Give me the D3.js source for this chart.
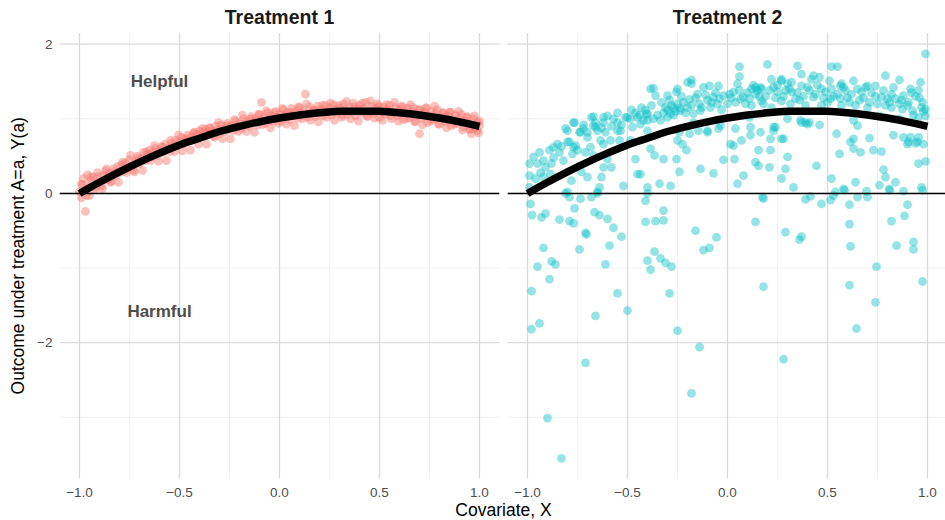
<!DOCTYPE html>
<html><head><meta charset="utf-8">
<script src="https://cdn.jsdelivr.net/npm/d3@7"></script>
<style>body{margin:0;background:#fff} svg{display:block} text{font-family:"Liberation Sans",Arial,sans-serif}</style>
</head><body><svg id="c" width="945" height="520"></svg>
<script>
const panelTitles = ["Treatment 1", "Treatment 2"];
const xMajor = [-1, -0.5, 0, 0.5, 1];
const xMinor = [-0.75, -0.25, 0.25, 0.75];
const yMajor = [-2, 0, 2];
const yMinor = [-3, -1, 1];
const xTitle = "Covariate, X";
const yTitle = "Outcome under treatment A=a, Y(a)";
const annoText = ["Helpful", "Harmful"];
const annoX = [-0.6, -0.6];
const annoY = [1.5, -1.58];
const seriesColor = ["#F8766D", "#00BFC4"];

// mean outcome curve (same in both panels)
const curveX = [-1,-0.9,-0.8,-0.7,-0.6,-0.5,-0.4,-0.3,-0.2,-0.1,0,0.1,0.2,0.3,0.4,0.5,0.6,0.7,0.8,0.9,1];
const curveY = [0,0.15,0.29,0.42,0.54,0.65,0.74,0.83,0.90,0.96,1.01,1.05,1.08,1.10,1.10,1.10,1.08,1.05,1.01,0.96,0.90];

// Treatment 1 observations
const t1Points = [
[-1.00,0.02],[-0.99,-0.06],[-0.99,0.12],[-0.98,0.20],[-0.97,-0.24],[-0.97,0.05],[-0.96,0.25],[-0.95,0.10],[-0.95,-0.03],[-0.94,0.17],
[-0.93,0.22],[-0.92,0.08],[-0.91,0.28],[-0.90,0.15],[-0.89,0.10],[-0.88,0.24],[-0.87,0.30],[-0.86,0.18],[-0.85,0.27],[-0.84,0.16],
[-0.83,0.33],[-0.82,0.24],[-0.81,0.36],[-0.80,0.28],[-0.79,0.38],[-0.78,0.30],[-0.77,0.41],[-0.76,0.33],[-0.75,0.45],[-0.74,0.36],
[-0.73,0.31],[-0.72,0.43],[-0.71,0.50],[-0.70,0.40],[-0.69,0.47],[-0.68,0.55],[-0.67,0.44],[-0.66,0.52],[-0.65,0.58],[-0.64,0.49],
[-0.63,0.55],[-0.62,0.60],[-0.61,0.51],[-0.60,0.57],[-0.59,0.63],[-0.58,0.55],[-0.57,0.66],[-0.56,0.60],[-0.55,0.56],[-0.54,0.67],
[-0.53,0.62],[-0.52,0.71],[-0.51,0.64],[-0.50,0.69],[-0.49,0.75],[-0.48,0.66],[-0.47,0.72],[-0.46,0.78],[-0.45,0.70],[-0.44,0.76],
[-0.43,0.81],[-0.42,0.73],[-0.41,0.79],[-0.40,0.84],[-0.39,0.76],[-0.38,0.82],[-0.37,0.86],[-0.36,0.80],[-0.35,0.88],[-0.34,0.83],
[-0.33,0.77],[-0.32,0.90],[-0.31,0.85],[-0.30,0.80],[-0.29,0.92],[-0.28,0.86],[-0.27,0.83],[-0.26,0.94],[-0.25,0.88],[-0.24,0.91],
[-0.23,0.84],[-0.22,0.97],[-0.21,0.90],[-0.20,0.94],[-0.19,0.87],[-0.18,1.00],[-0.17,0.93],[-0.16,0.97],[-0.15,0.90],[-0.14,1.03],
[-0.13,0.96],[-0.12,1.00],[-0.11,0.92],[-0.10,1.06],[-0.09,1.22],[-0.09,0.98],[-0.08,1.02],[-0.07,0.94],[-0.06,1.08],[-0.05,1.00],
[-0.04,1.04],[-0.03,0.96],[-0.02,1.10],[-0.01,1.02],[0.00,1.06],[0.01,0.97],[0.02,1.12],[0.03,1.04],[0.04,1.08],[0.05,0.99],
[0.06,1.14],[0.07,1.05],[0.08,1.10],[0.09,1.01],[0.10,1.15],[0.11,1.06],[0.12,1.11],[0.13,1.33],[0.14,1.02],[0.15,1.16],
[0.16,1.08],[0.17,1.12],[0.18,1.03],[0.19,1.17],[0.20,1.09],[0.21,1.13],[0.22,1.04],[0.23,1.18],[0.24,1.10],[0.25,1.14],
[0.26,1.05],[0.27,1.19],[0.28,1.11],[0.29,1.08],[0.30,1.15],[0.31,1.02],[0.32,1.20],[0.33,1.12],[0.34,1.06],[0.35,1.16],
[0.36,1.10],[0.37,1.21],[0.38,1.04],[0.39,1.13],[0.40,1.18],[0.41,1.08],[0.42,1.14],[0.43,1.22],[0.44,1.03],[0.45,1.11],
[0.46,1.17],[0.47,1.07],[0.48,1.14],[0.49,1.20],[0.50,1.02],[0.51,1.10],[0.52,1.16],[0.53,1.06],[0.54,1.13],[0.55,1.18],
[0.56,1.00],[0.57,1.09],[0.58,1.15],[0.59,1.04],[0.60,1.12],[0.61,1.17],[0.62,0.99],[0.63,1.08],[0.64,1.14],[0.65,1.02],
[0.66,1.10],[0.67,1.15],[0.68,0.97],[0.69,1.06],[0.70,0.80],[0.70,1.12],[0.71,1.01],[0.72,1.09],[0.73,1.14],[0.74,0.95],
[0.75,1.04],[0.76,1.10],[0.77,0.99],[0.78,1.07],[0.79,1.12],[0.80,0.93],[0.81,1.02],[0.82,1.08],[0.83,0.96],[0.84,1.04],
[0.85,1.09],[0.86,0.91],[0.87,0.99],[0.88,1.05],[0.89,0.94],[0.90,1.01],[0.91,1.06],[0.92,0.89],[0.93,0.97],[0.94,1.03],
[0.95,0.86],[0.96,0.80],[0.96,0.94],[0.97,1.00],[0.98,0.88],[0.99,0.84],[0.99,0.95],[1.00,0.91],[1.00,0.97],
[-0.985,0.12],[-0.965,-0.03],[-0.945,0.22],[-0.925,0.05],[-0.905,0.23],[-0.885,0.06],[-0.865,0.33],[-0.845,0.15],[-0.825,0.29],[-0.805,0.15],
[-0.785,0.42],[-0.765,0.28],[-0.745,0.51],[-0.725,0.29],[-0.705,0.47],[-0.685,0.31],[-0.665,0.56],[-0.645,0.44],[-0.625,0.64],[-0.605,0.43],
[-0.585,0.62],[-0.565,0.44],[-0.545,0.71],[-0.525,0.56],[-0.505,0.78],[-0.485,0.57],[-0.465,0.73],[-0.445,0.58],[-0.425,0.82],[-0.405,0.66],
[-0.385,0.87],[-0.365,0.66],[-0.345,0.87],[-0.325,0.75],[-0.305,0.95],[-0.285,0.73],[-0.265,0.91],[-0.245,0.73],[-0.225,0.99],[-0.205,0.83],
[-0.185,1.05],[-0.165,0.83],[-0.145,1.00],[-0.125,0.82],[-0.105,1.06],[-0.085,0.92],[-0.065,1.11],[-0.045,0.88],[-0.025,1.08],[-0.005,0.94],
[0.015,1.14],[0.035,0.93],[0.055,1.09],[0.075,0.91],[0.095,1.16],[0.115,1.00],[0.135,1.20],[0.155,0.98],[0.175,1.12],[0.195,0.96],
[0.215,1.18],[0.235,1.02],[0.255,1.21],[0.275,0.98],[0.295,1.18],[0.315,1.05],[0.335,1.23],[0.355,1.00],[0.375,1.16],[0.395,0.97],
[0.415,1.21],[0.435,1.04],[0.455,1.24],[0.475,1.01],[0.495,1.17],[0.515,0.98],[0.535,1.19],[0.555,1.04],[0.575,1.22],[0.595,0.97],
[0.615,1.16],[0.635,1.00],[0.655,1.19],[0.675,0.96],[0.695,1.12],[0.715,0.92],[0.735,1.15],[0.755,0.97],[0.775,1.17],[0.795,0.93],
[0.815,1.08],[0.835,0.88],[0.855,1.09],[0.875,0.93],[0.895,1.10],[0.915,0.85],[0.935,1.02],[0.955,0.86],[0.975,1.04],[0.995,0.81]
];

// Treatment 2 observations
const t2Points = [
[-0.985,-0.14],[-0.977,-0.29],[-0.93,-0.32],[-0.91,-0.27],[-0.84,-0.35],[-0.79,-0.37],[-0.77,-0.40],[-0.765,-0.20],[-0.735,-0.07],[-0.79,-0.05],
[-0.81,0.0],[-0.68,-0.05],[-0.65,0.0],[-0.665,-0.25],[-0.64,-0.29],[-0.60,-0.34],[-0.57,-0.46],[-0.53,-0.58],[-0.71,-0.53],[-0.705,-0.55],
[-0.74,-0.75],[-0.92,-0.73],[-0.59,-0.70],[-0.61,-0.95],[-0.88,-0.91],[-0.86,-0.95],[-0.95,-0.98],[-0.89,-1.15],[-0.98,-1.31],[-0.55,-1.34],
[-0.50,-1.57],[-0.66,-1.64],[-0.94,-1.74],[-0.98,-1.82],[-0.71,-2.27],[-0.41,-0.10],[-0.40,0.0],[-0.41,-0.38],[-0.36,-0.37],[-0.32,-0.36],
[-0.32,-0.23],[-0.365,-0.78],[-0.40,-0.90],[-0.385,-1.02],[-0.335,-0.87],[-0.31,-0.93],[-0.28,-0.98],[-0.29,-1.34],[-0.25,-1.84],[-0.14,-2.06],
[-0.16,-0.50],[-0.12,-0.76],[-0.09,-0.73],[-0.055,-0.59],[-0.18,-2.68],[-0.90,-3.01],[-0.83,-3.55],
[0.18,-0.07],[0.14,-0.38],[0.29,-0.52],[0.37,-0.58],[0.36,-0.62],[0.39,-0.08],[0.415,-0.04],[0.47,-0.14],[0.515,-0.09],[0.54,0.02],
[0.585,0.04],[0.61,-0.15],[0.65,-0.05],[0.70,-0.05],[0.695,0.03],[0.61,-0.41],[0.615,-0.71],[0.61,-1.23],[0.745,-0.98],[0.74,-1.46],
[0.645,-1.81],[0.18,-1.25],[0.28,-2.22],[0.82,-0.37],[0.885,-0.30],[0.90,-0.15],[0.845,-0.70],[0.93,-0.65],[0.93,-0.75],[0.975,-1.18],
[0.81,0.04],[0.88,0.03],[0.975,0.04],
[-0.99,0.08],[-0.99,0.24],[-0.99,0.40],[-0.97,0.49],[-0.94,0.55],[-0.92,0.44],[-0.91,0.35],[-0.935,0.28],[-0.92,0.22],[-0.885,0.26],
[-0.87,0.48],[-0.89,0.58],[-0.87,0.62],[-0.85,0.66],[-0.83,0.63],[-0.82,0.44],[-0.79,0.69],[-0.77,0.62],[-0.775,0.53],[-0.75,0.58],
[-0.80,0.84],[-0.765,0.95],[-0.735,0.82],[-0.72,0.87],[-0.68,1.02],[-0.66,0.89],[-0.62,1.02],[-0.61,0.82],[-0.635,0.71],[-0.685,0.62],
[-0.71,0.55],[-0.67,0.51],[-0.60,0.46],[-0.58,0.35],[-0.62,0.35],[-0.63,0.22],[-0.64,0.08],[-0.78,0.17],[-0.73,0.29],[-0.70,0.22],
[-0.585,0.71],[-0.55,0.95],[-0.535,0.84],[-0.50,1.02],[-0.475,0.89],[-0.45,1.02],[-0.42,0.98],[-0.405,1.06],[-0.46,0.46],[-0.45,0.26],
[-0.52,0.10],[-0.40,0.08],[-0.80,0.02],[-0.65,0.02],[-0.385,1.40],[-0.54,0.71],[-0.485,0.71],
[-0.37,1.41],[-0.36,1.31],[-0.30,1.31],[-0.25,1.40],[-0.20,1.49],[-0.18,1.47],[-0.12,1.42],[-0.09,1.44],[-0.045,1.44],[-0.15,1.33],
[-0.07,1.29],[-0.02,1.31],[0.03,1.36],[0.08,1.29],[-0.27,1.15],[-0.25,1.20],[-0.235,1.11],[-0.20,1.15],[-0.30,1.02],[-0.335,0.98],
[-0.40,1.07],[-0.485,1.00],[-0.51,1.02],[-0.60,1.04],[-0.62,0.95],[-0.67,1.03],[-0.67,0.91],[-0.77,0.95],[-0.81,0.87],[-0.74,0.82],
[-0.70,0.75],[-0.80,0.69],[-0.76,0.64],[-0.65,0.84],[-0.55,0.84],[-0.40,0.98],[-0.37,1.00],[-0.285,1.07],[-0.17,1.07],[-0.135,1.11],
[-0.085,1.15],[-0.05,1.20],[0.0,1.20],[0.065,1.27],[-0.10,0.82],[-0.035,0.91],[-0.17,0.95],[-0.25,0.71],[-0.24,0.82],[-0.385,0.60],
[0.015,0.66],[0.07,0.71],[-0.435,0.93],[-0.62,0.66],
[-0.255,1.36],[-0.18,1.52],[0.06,1.70],[0.06,1.57],[0.05,1.47],[0.20,1.73],[0.165,1.42],[0.15,1.38],[0.22,1.53],[0.23,1.42],
[0.27,1.51],[0.30,1.47],[-0.365,0.51],[-0.32,0.46],[-0.255,0.46],[-0.225,0.66],[-0.205,0.58],[-0.24,0.29],[-0.285,0.10],[-0.34,0.13],
[-0.435,0.26],[-0.135,0.33],[-0.07,0.27],[-0.02,0.45],[0.035,0.46],[0.03,0.64],[0.115,0.78],[0.155,0.58],[0.14,0.42],[0.155,0.37],
[0.21,0.35],[0.215,0.58],[0.08,0.24],[0.05,0.13],[0.04,0.87],[0.23,0.84],[0.24,0.89],[0.28,0.73],[0.30,0.49],[0.29,0.33],
[0.27,0.20],[0.175,-0.05],[-0.10,0.84],[-0.045,0.87],[-0.145,0.84],[-0.19,0.80],[-0.40,0.84],
[0.99,1.87],[0.35,1.71],[0.37,1.60],[0.52,1.70],[0.55,1.70],[0.46,1.56],[0.43,1.58],[0.79,1.58],[0.86,1.52],[0.965,1.49],
[0.57,1.47],[0.70,1.44],[0.74,1.44],[0.365,0.98],[0.39,0.95],[0.41,0.95],[0.46,0.92],[0.545,0.80],[0.63,0.98],[0.65,0.91],
[0.63,0.73],[0.615,0.69],[0.63,0.60],[0.665,0.55],[0.56,0.53],[0.71,0.74],[0.73,0.58],[0.77,0.56],[0.83,0.78],[0.88,0.75],
[0.915,0.75],[0.955,0.75],[0.90,0.66],[0.94,0.67],[0.98,0.66],[0.955,0.40],[0.99,0.43],[0.445,0.37],[0.52,0.20],[0.58,0.06],
[0.64,0.15],[0.76,0.11],[0.78,0.32],[0.79,0.22],[0.84,0.15],[0.81,0.06],[0.97,0.08],[0.33,0.08],[0.53,-0.03],
[0.14,1.42],[0.17,1.40],[0.27,1.53],[0.32,1.49],[0.37,1.44],[0.42,1.53],[0.51,1.51],[0.565,1.44],[0.63,1.51],[0.69,1.42],
[0.915,1.40],[0.955,1.38],[0.14,1.33],[0.25,1.36],[0.31,1.40],[0.41,1.38],[0.49,1.36],[0.59,1.38],[0.62,1.33],[0.67,1.36],
[0.77,1.29],[0.82,1.33],[0.88,1.31],[0.11,1.27],[0.17,1.24],[0.27,1.24],[0.34,1.27],[0.43,1.29],[0.515,1.27],[0.565,1.27],
[0.71,1.22],[0.81,1.22],[0.86,1.20],[0.905,1.22],[0.975,1.22],[0.99,1.13],[0.925,1.11],[0.875,1.13],[0.82,1.15],[0.79,1.18],
[0.12,1.18],[0.22,1.15],[0.315,1.20],[0.39,1.18],[0.47,1.18],[0.57,1.18],[0.64,1.18],[0.70,1.15],[0.99,1.04],
[0.11,1.02],[0.115,0.89],[0.165,0.82],[0.23,0.89],[0.215,0.73],[0.27,0.73],[0.30,1.00],[0.37,0.95],[0.40,0.93],[0.905,0.69],
[0.95,0.69],[0.76,1.04],[0.86,1.00],[0.955,1.02],
[-0.28,1.18],[-0.26,1.10],[-0.22,1.22],[-0.30,1.12],[-0.32,1.08],[-0.19,1.26],[-0.14,1.20],[-0.10,1.25],[-0.06,1.35],[0.02,1.28],
[0.10,1.35],[0.13,1.45],[0.19,1.30],[0.24,1.28],[0.29,1.38],[0.35,1.35],[0.38,1.30],[0.45,1.45],[0.48,1.28],[0.52,1.40],
[0.55,1.33],[0.60,1.28],[0.66,1.25],[0.74,1.30],[0.78,1.38],[0.84,1.27],[0.90,1.18],[0.94,1.30],[0.97,1.15],[-0.55,1.08],
[-0.48,1.12],[-0.43,1.15],[-0.58,0.90],[-0.66,0.95],[-0.72,0.92],
[-0.44,1.05],[-0.41,1.12],[-0.38,1.18],[-0.35,1.05],[-0.33,1.22],[-0.31,1.15],[-0.29,1.25],[-0.27,1.05],[-0.24,1.14],[-0.23,1.30],
[-0.21,1.08],[-0.18,1.18],[-0.16,1.28],[-0.13,1.15],[-0.11,1.32],[-0.08,1.22],[-0.04,1.27],[-0.03,1.12],[0.01,1.33],[0.04,1.22],
[0.06,1.38],[0.09,1.20],[0.12,1.40],[0.16,1.30],[0.18,1.20],[0.21,1.38],[0.25,1.45],[0.28,1.30],[0.32,1.36],[0.36,1.25],
[0.40,1.42],[0.44,1.33],[0.47,1.40],[0.50,1.22],[0.53,1.30],[0.58,1.42],[0.61,1.22],[0.65,1.40],[0.68,1.28],[0.72,1.35],
[0.75,1.20],[0.80,1.27],[0.83,1.42],[0.87,1.25],[0.92,1.35],[0.96,1.28],[0.98,1.10],[0.93,1.05],[-0.57,1.00],[-0.63,0.88],
[-0.53,0.92],[-0.46,1.08],[-0.70,0.82],[-0.84,0.55],[-0.95,0.40],[-0.96,0.20],[-0.88,0.40]
];

const svg = d3.select("#c");
const panelTop = 33, panelBottom = 478.5;
const panelRanges = [[59.5, 499.5], [507.5, 947.5]];
const y = d3.scaleLinear().domain([-3.82, 2.15]).range([panelBottom, panelTop]);
const seriesPts = [t1Points, t2Points];
const fmtX = d3.format(".1f");
const fmtY = d3.format("d");
const lineData = curveX.map((v, i) => [v, curveY[i]]);

panelRanges.forEach((rng, p) => {
  const x = d3.scaleLinear().domain([-1.1, 1.1]).range(rng);
  const g = svg.append("g");
  const clipId = "clip" + p;
  svg.append("clipPath").attr("id", clipId).append("rect")
    .attr("x", rng[0]).attr("y", panelTop).attr("width", rng[1] - rng[0]).attr("height", panelBottom - panelTop);
  g.selectAll(".vmin").data(xMinor).join("line")
    .attr("x1", d => x(d)).attr("x2", d => x(d)).attr("y1", panelTop).attr("y2", panelBottom)
    .attr("stroke", "#ededed").attr("stroke-width", 0.8);
  g.selectAll(".hmin").data(yMinor).join("line")
    .attr("x1", rng[0]).attr("x2", rng[1]).attr("y1", d => y(d)).attr("y2", d => y(d))
    .attr("stroke", "#ededed").attr("stroke-width", 0.8);
  g.selectAll(".vmaj").data(xMajor).join("line")
    .attr("x1", d => x(d)).attr("x2", d => x(d)).attr("y1", panelTop).attr("y2", panelBottom)
    .attr("stroke", "#dadada").attr("stroke-width", 1.3);
  g.selectAll(".hmaj").data(yMajor).join("line")
    .attr("x1", rng[0]).attr("x2", rng[1]).attr("y1", d => y(d)).attr("y2", d => y(d))
    .attr("stroke", "#dadada").attr("stroke-width", 1.3);

  const inner = g.append("g").attr("clip-path", `url(#${clipId})`);
  inner.selectAll("circle").data(seriesPts[p]).join("circle")
    .attr("cx", d => x(d[0])).attr("cy", d => y(d[1])).attr("r", 4.4)
    .attr("fill", seriesColor[p]).attr("fill-opacity", p === 0 ? 0.45 : 0.42);
  inner.append("line").attr("x1", rng[0]).attr("x2", rng[1]).attr("y1", y(0)).attr("y2", y(0))
    .attr("stroke", "#000").attr("stroke-width", 1.6);
  inner.append("path").datum(lineData)
    .attr("d", d3.line().x(d => x(d[0])).y(d => y(d[1])).curve(d3.curveCatmullRom))
    .attr("fill", "none").attr("stroke", "#000").attr("stroke-width", 7.5);

  svg.append("text").attr("x", (x(-1) + x(1)) / 2).attr("y", 24).attr("text-anchor", "middle")
    .attr("font-size", 19.5).attr("font-weight", "bold").attr("fill", "#1a1a1a").text(panelTitles[p]);
  svg.selectAll(".xt" + p).data(xMajor).join("text")
    .attr("x", d => x(d)).attr("y", 497).attr("text-anchor", "middle")
    .attr("font-size", 13.5).attr("fill", "#4d4d4d").text(d => fmtX(d));

  if (p === 0) {
    svg.selectAll(".yt").data(yMajor).join("text")
      .attr("x", 52.5).attr("y", d => y(d)).attr("dy", "0.35em").attr("text-anchor", "end")
      .attr("font-size", 13.5).attr("fill", "#4d4d4d").text(d => fmtY(d));
    svg.selectAll(".anno").data(annoText).join("text")
      .attr("x", (d, i) => x(annoX[i])).attr("y", (d, i) => y(annoY[i])).attr("dy", "0.35em")
      .attr("text-anchor", "middle").attr("font-size", 17).attr("font-weight", "bold")
      .attr("fill", "#4d4d4d").text(d => d);
  }
});

svg.append("text").attr("x", (59.5 + 947.5) / 2).attr("y", 516).attr("text-anchor", "middle")
  .attr("font-size", 17.5).attr("fill", "#000").text(xTitle);
svg.append("text").attr("transform", `translate(24,${(panelTop + panelBottom) / 2}) rotate(-90)`)
  .attr("text-anchor", "middle").attr("font-size", 17.5).attr("fill", "#000").text(yTitle);
</script></body></html>
